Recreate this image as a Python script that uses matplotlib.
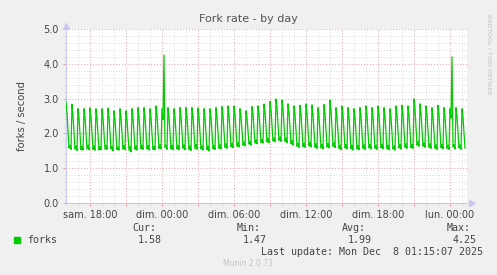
import numpy as np
import matplotlib.pyplot as plt
from matplotlib.patches import Rectangle
from matplotlib.ticker import MultipleLocator, FixedLocator

start_hour = 16.0      # hours since sam. 00:00
step_min = 5

# one row = one 30 min cycle: peak, falling, falling, low, bump, low
forks = [
    2.91, 2.60, 2.10, 1.58, 1.66, 1.54,
    2.84, 2.52, 2.02, 1.55, 1.64, 1.51,
    2.71, 2.45, 1.98, 1.53, 1.63, 1.52,
    2.71, 2.46, 2.00, 1.55, 1.66, 1.53,
    2.73, 2.48, 2.01, 1.54, 1.64, 1.52,
    2.71, 2.44, 1.97, 1.52, 1.62, 1.53,
    2.71, 2.45, 1.99, 1.54, 1.65, 1.54,
    2.73, 2.47, 2.00, 1.55, 1.63, 1.50,
    2.65, 2.40, 1.95, 1.53, 1.61, 1.52,
    2.71, 2.46, 1.99, 1.55, 1.65, 1.53,
    2.65, 2.39, 1.94, 1.51, 1.62, 1.47,
    2.71, 2.45, 1.98, 1.54, 1.64, 1.52,
    2.74, 2.49, 2.02, 1.56, 1.66, 1.54,
    2.74, 2.48, 2.01, 1.55, 1.65, 1.52,
    2.71, 2.45, 1.98, 1.54, 1.63, 1.53,
    2.79, 2.53, 2.05, 1.57, 1.67, 1.55,
    2.71, 2.40, 4.25, 1.60, 1.66, 1.54,
    2.74, 2.48, 2.01, 1.56, 1.66, 1.53,
    2.71, 2.46, 2.00, 1.55, 1.65, 1.53,
    2.74, 2.49, 2.03, 1.57, 1.67, 1.53,
    2.74, 2.48, 2.01, 1.54, 1.64, 1.51,
    2.74, 2.50, 2.04, 1.56, 1.68, 1.54,
    2.73, 2.47, 2.00, 1.55, 1.64, 1.52,
    2.71, 2.45, 1.98, 1.53, 1.63, 1.49,
    2.71, 2.46, 2.00, 1.56, 1.66, 1.54,
    2.74, 2.49, 2.03, 1.57, 1.67, 1.55,
    2.77, 2.52, 2.06, 1.60, 1.70, 1.57,
    2.79, 2.54, 2.08, 1.62, 1.71, 1.59,
    2.79, 2.55, 2.10, 1.63, 1.73, 1.61,
    2.71, 2.50, 2.08, 1.66, 1.75, 1.64,
    2.65, 2.46, 2.08, 1.69, 1.77, 1.66,
    2.77, 2.56, 2.14, 1.72, 1.81, 1.70,
    2.79, 2.58, 2.16, 1.74, 1.83, 1.72,
    2.84, 2.62, 2.19, 1.75, 1.85, 1.73,
    2.92, 2.68, 2.23, 1.78, 1.87, 1.76,
    2.99, 2.74, 2.27, 1.80, 1.90, 1.77,
    2.96, 2.71, 2.24, 1.77, 1.87, 1.73,
    2.85, 2.61, 2.16, 1.70, 1.79, 1.66,
    2.79, 2.54, 2.08, 1.63, 1.72, 1.60,
    2.81, 2.56, 2.09, 1.62, 1.72, 1.60,
    2.85, 2.59, 2.11, 1.64, 1.74, 1.61,
    2.82, 2.56, 2.08, 1.60, 1.70, 1.57,
    2.74, 2.49, 2.03, 1.58, 1.68, 1.55,
    2.83, 2.57, 2.09, 1.61, 1.71, 1.58,
    2.96, 2.68, 2.16, 1.63, 1.73, 1.59,
    2.74, 2.49, 2.02, 1.57, 1.66, 1.53,
    2.79, 2.53, 2.05, 1.58, 1.68, 1.55,
    2.74, 2.48, 2.02, 1.56, 1.66, 1.52,
    2.71, 2.46, 2.00, 1.55, 1.65, 1.53,
    2.74, 2.49, 2.02, 1.57, 1.67, 1.54,
    2.79, 2.53, 2.05, 1.58, 1.68, 1.55,
    2.74, 2.49, 2.03, 1.57, 1.66, 1.54,
    2.79, 2.54, 2.06, 1.59, 1.69, 1.56,
    2.74, 2.48, 2.02, 1.56, 1.66, 1.53,
    2.71, 2.46, 2.00, 1.55, 1.64, 1.52,
    2.79, 2.53, 2.06, 1.58, 1.68, 1.55,
    2.81, 2.55, 2.08, 1.60, 1.70, 1.57,
    2.79, 2.54, 2.07, 1.59, 1.69, 1.57,
    2.99, 2.71, 2.19, 1.66, 1.76, 1.63,
    2.85, 2.60, 2.12, 1.63, 1.73, 1.60,
    2.79, 2.54, 2.07, 1.60, 1.70, 1.57,
    2.74, 2.49, 2.03, 1.57, 1.67, 1.54,
    2.81, 2.55, 2.08, 1.59, 1.69, 1.56,
    2.74, 2.49, 2.03, 1.57, 1.66, 1.54,
    2.71, 2.44, 4.20, 1.62, 1.68, 1.55,
    2.74, 2.49, 2.03, 1.58, 1.67, 1.54,
    2.71, 2.46, 2.00, 1.58,
]

tick_hours = [18, 24, 30, 36, 42, 48]
tick_labels = ["sam. 18:00", "dim. 00:00", "dim. 06:00",
               "dim. 12:00", "dim. 18:00", "lun. 00:00"]
stat_heads = ["Cur:", "Min:", "Avg:", "Max:"]
stat_vals = ["1.58", "1.47", "1.99", "4.25"]

W, H = 497, 275
BG = "#f0f0f0"
GREEN = "#00cc00"
MAJ = "#e9a0a0"
MIN = "#d2d2d2"
AXC = "#c8c8f0"
TXT = "#444444"

fig = plt.figure(figsize=(W / 100, H / 100), dpi=100, facecolor=BG)
ax = fig.add_axes([66 / W, 1 - 203 / H, 401 / W, 174 / H])
ax.set_facecolor("white")

t = start_hour + np.arange(len(forks)) * step_min / 60
ax.plot(t, forks, color=GREEN, lw=0.9, zorder=3)

ax.set_xlim(start_hour, start_hour + 401 / 12)
ax.set_ylim(0, 5)

# x: red grid every 3h, labels every 6h, grey every hour
major_x = list(range(18, 50, 3))
ax.xaxis.set_major_locator(FixedLocator(major_x))
ax.set_xticklabels([tick_labels[tick_hours.index(h)] if h in tick_hours else ""
                    for h in major_x])
ax.xaxis.set_minor_locator(MultipleLocator(1))

ax.yaxis.set_major_locator(MultipleLocator(1))
ax.yaxis.set_minor_locator(MultipleLocator(0.2))
ax.yaxis.set_major_formatter(lambda v, p: f"{v:.1f}")

ax.grid(which="major", color=MAJ, ls=(0, (1, 2)), lw=0.7)
ax.grid(which="minor", color=MIN, ls=(0, (1, 2)), lw=0.6)
ax.set_axisbelow(True)

ax.tick_params(which="major", length=2, width=0.7, color=MAJ,
               labelsize=7, labelcolor=TXT, pad=3)
ax.tick_params(which="minor", length=1.5, width=0.6, color=MIN)

for s in ["top", "right"]:
    ax.spines[s].set_visible(False)
for s in ["left", "bottom"]:
    ax.spines[s].set_color(AXC)
    ax.spines[s].set_linewidth(0.8)
ax.plot(1.012, 0, marker=">", ms=4, color=AXC, transform=ax.transAxes, clip_on=False)
ax.plot(0, 1.02, marker="^", ms=4, color=AXC, transform=ax.transAxes, clip_on=False)

fig.text(248 / W, 1 - 19 / H, "Fork rate - by day", ha="center", va="center",
         fontsize=8, color="#555555")
fig.text(22 / W, 1 - 116 / H, "forks / second", rotation=90, ha="center",
         va="center", fontsize=7.2, color=TXT)
fig.text(489 / W, 1 - 14 / H, "RRDTOOL / TOBI OETIKER", rotation=270, ha="center",
         va="top", fontsize=4.5, color="#c0c0c0")

# legend block
mono = "DejaVu Sans Mono"
fig.patches.append(Rectangle((14 / W, 1 - 243 / H), 6 / W, 6 / H, color=GREEN,
                             transform=fig.transFigure, figure=fig))
fig.text(27 / W, 1 - 240 / H, "forks", family=mono, fontsize=7.2, color=TXT,
         ha="left", va="center")
head_x = [132, 237, 342, 447]
val_x = [138, 243, 348, 453]
for hx, vx, hd, vl in zip(head_x, val_x, stat_heads, stat_vals):
    fig.text(hx / W, 1 - 228 / H, hd, family=mono, fontsize=7.2, color=TXT,
             ha="left", va="center")
    fig.text(vx / W, 1 - 240 / H, vl, family=mono, fontsize=7.2, color=TXT,
             ha="left", va="center")
fig.text(261 / W, 1 - 252 / H, "Last update: Mon Dec  8 01:15:07 2025", family=mono,
         fontsize=7.2, color=TXT, ha="left", va="center")
fig.text(248 / W, 1 - 264 / H, "Munin 2.0.73", ha="center", va="center",
         fontsize=5.5, color="#c4c4c4")

fig.savefig("out.png", dpi=100, facecolor=BG)
